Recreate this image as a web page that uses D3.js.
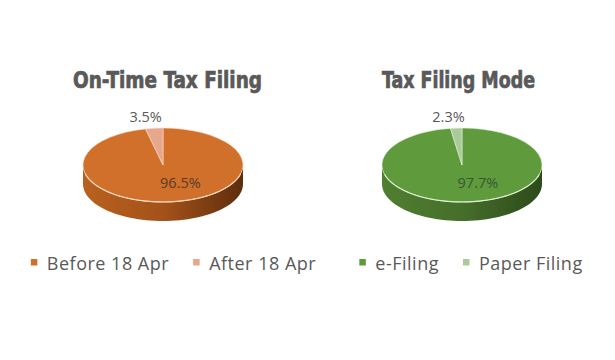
<!DOCTYPE html>
<html lang="en">

<head>
    <meta charset="UTF-8">
    <title>Tax filing pies</title>
    <script src="https://cdn.jsdelivr.net/npm/d3@7"></script>
    <style>
        body { margin: 0; background: #ffffff; }
        svg { display: block; }
    </style>
</head>
<body>

<svg width="615" height="360"></svg>

<script>
    let svg = d3.select("svg");

    // chart data
    const leftTitle = "On-Time Tax Filing";
    const leftCategories = ["Before 18 Apr", "After 18 Apr"];
    const leftValues = [96.5, 3.5];

    const rightTitle = "Tax Filing Mode";
    const rightCategories = ["e-Filing", "Paper Filing"];
    const rightValues = [97.7, 2.3];

    const rx = 80, ry = 37, depth = 19;

    function drawPie(opt) {
        let g = svg.append("g");
        let cx = opt.cx, cy = opt.cy;

        let pie = d3.pie().sort(null).value(d => d.value);
        let arcs = pie(opt.categories.map((c, i) => ({name: c, value: opt.values[i]})));

        // wall gradient
        let gid = "wall-" + opt.id;
        let grad = svg.append("defs").append("linearGradient")
            .attr("id", gid)
            .attr("gradientUnits", "userSpaceOnUse")
            .attr("x1", cx - rx).attr("x2", cx + rx)
            .attr("y1", 0).attr("y2", 0);
        opt.wall.forEach((c, i) => {
            grad.append("stop")
                .attr("offset", i / (opt.wall.length - 1))
                .attr("stop-color", c);
        });

        function pt(a, yOff) {
            return [cx + rx * Math.sin(a), cy - ry * Math.cos(a) + yOff];
        }
        function sweep(a0, a1) {
            return d3.range(0, 61).map(k => a0 + (a1 - a0) * k / 60);
        }

        // side wall, only the front half is visible
        arcs.forEach(d => {
            let a0 = Math.max(d.startAngle, Math.PI / 2);
            let a1 = Math.min(d.endAngle, Math.PI * 3 / 2);
            if (a1 <= a0) return;
            let top = sweep(a0, a1).map(a => pt(a, 0));
            let bottom = sweep(a1, a0).map(a => pt(a, depth));
            g.append("path")
                .attr("d", d3.line()(top.concat(bottom)) + "Z")
                .attr("fill", "url(#" + gid + ")");
        });

        // top face: circular arcs squashed into an ellipse
        let arc = d3.arc().innerRadius(0).outerRadius(rx);
        g.append("g")
            .attr("transform", `translate(${cx},${cy}) scale(1,${ry / rx})`)
            .selectAll("path")
            .data(arcs)
            .enter()
            .append("path")
            .attr("d", arc)
            .attr("fill", (d, i) => opt.colors[i])
            .attr("stroke", opt.rim)
            .attr("stroke-width", 0.6)
            .attr("vector-effect", "non-scaling-stroke");

        // light rim along the front edge
        g.append("path")
            .attr("d", d3.line()(sweep(Math.PI * 0.58, Math.PI * 1.42).map(a => pt(a, 0))))
            .attr("fill", "none")
            .attr("stroke", opt.rim)
            .attr("stroke-width", 1.2);

        // data labels
        arcs.forEach((d, i) => {
            let mid = (d.startAngle + d.endAngle) / 2;
            let big = (d.endAngle - d.startAngle) > Math.PI;
            let f = big ? 0.5 : 1.3;
            let x = cx + rx * f * Math.sin(mid) + (big ? 13 : -6);
            let y = cy - ry * f * Math.cos(mid) + 5;
            g.append("text")
                .attr("x", x)
                .attr("y", y)
                .attr("text-anchor", "middle")
                .attr("font-family", "Open Sans, sans-serif")
                .attr("font-size", 14.5)
                .attr("fill", big ? opt.inLabel : "#595959")
                .text(d3.format(".1f")(d.value) + "%");
        });

        // title
        g.append("text")
            .attr("x", opt.titleX)
            .attr("y", 88)
            .attr("text-anchor", "middle")
            .attr("font-family", "DejaVu Sans Condensed, sans-serif")
            .attr("font-weight", "bold")
            .attr("font-size", 22.5)
            .attr("fill", "#595959")
            .attr("stroke", "#595959")
            .attr("stroke-width", 0.7)
            .attr("textLength", opt.titleW)
            .attr("lengthAdjust", "spacingAndGlyphs")
            .text(opt.title);

        // legend
        let lg = g.append("g");
        let xPos = 0;
        opt.categories.forEach((c, i) => {
            lg.append("rect")
                .attr("x", xPos)
                .attr("y", 259)
                .attr("width", 6.5)
                .attr("height", 6.5)
                .attr("fill", opt.colors[i]);
            let t = lg.append("text")
                .attr("x", xPos + 16)
                .attr("y", 270)
                .attr("font-family", "Open Sans, sans-serif")
                .attr("font-size", 18)
                .attr("letter-spacing", 0.5)
                .attr("fill", "#595959")
                .text(c);
            xPos += 16 + t.node().getComputedTextLength() + 24;
        });
        let w = xPos - 24;
        lg.attr("transform", `translate(${opt.legendCx - w / 2},0)`);
    }

    drawPie({
        id: "left", cx: 163, cy: 165,
        categories: leftCategories, values: leftValues, title: leftTitle,
        colors: ["#D0702B", "#E8A68C"],
        wall: ["#B8611F", "#A4521A", "#5E2D0D"],
        rim: "#F8DCC4", inLabel: "#5A3A26",
        titleX: 167.5, titleW: 189, legendCx: 173.5
    });

    drawPie({
        id: "right", cx: 462, cy: 165,
        categories: rightCategories, values: rightValues, title: rightTitle,
        colors: ["#5F9B3D", "#A9CB9B"],
        wall: ["#507F31", "#456E2A", "#2D4A1B"],
        rim: "#DDEED2", inLabel: "#3A5630",
        titleX: 458.5, titleW: 153, legendCx: 471
    });

</script>
</body>
</html>
